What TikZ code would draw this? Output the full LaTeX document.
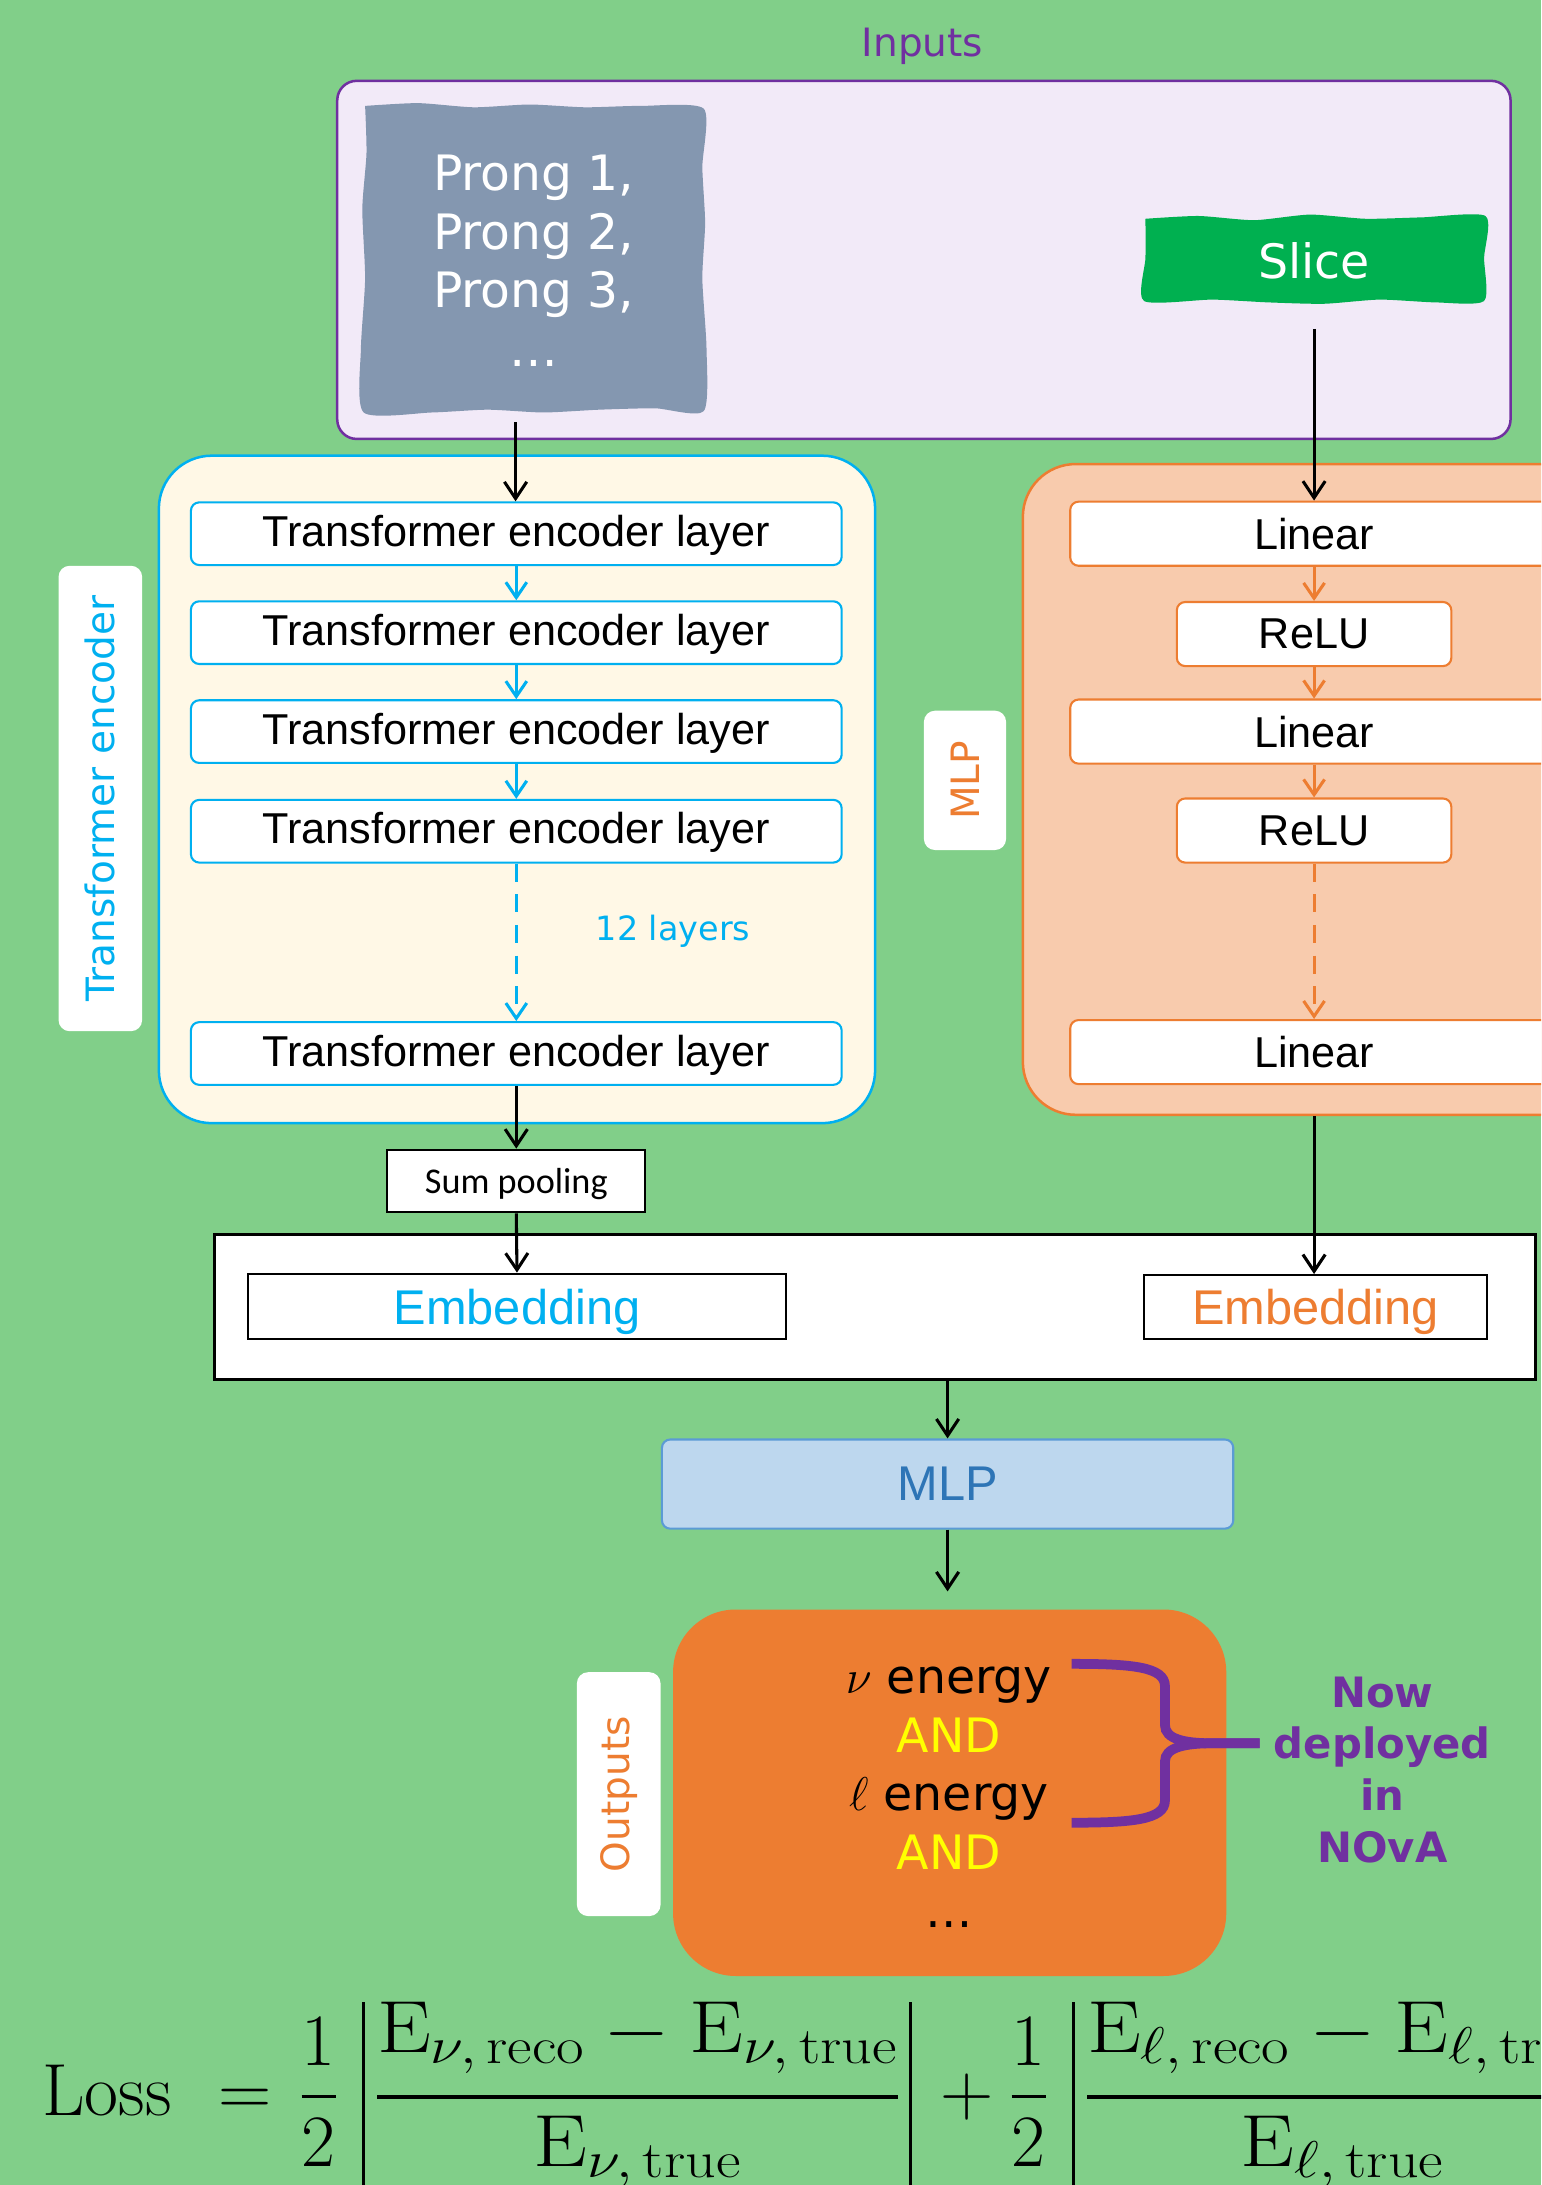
\RequirePackage{fix-cm}
\documentclass[tikz,border=0pt]{standalone}
\usepackage{graphicx}
\usepackage{fontspec}
\newfontfamily\dvfont{DejaVu Sans}
\newfontfamily\arfont{Liberation Sans}
\newfontfamily\calfont{Carlito}
\usetikzlibrary{arrows.meta}
\definecolor{bg}{HTML}{81CF89}
\definecolor{purp}{HTML}{7030A0}
\definecolor{inputsfill}{HTML}{F2EAF8}
\definecolor{prongc}{HTML}{8497B0}
\definecolor{slicec}{HTML}{00B050}
\definecolor{teblue}{HTML}{00B0F0}
\definecolor{cream}{HTML}{FFF8E6}
\definecolor{orangeC}{HTML}{ED7D31}
\definecolor{peach}{HTML}{F8CBAD}
\definecolor{mlpfill}{HTML}{BDD7EE}
\definecolor{mlpdraw}{HTML}{5B9BD5}
\definecolor{mlptext}{HTML}{2E75B6}
\definecolor{yel}{HTML}{FFFF00}
\newcommand\absbar{\vrule width 2.2pt height 81pt depth 70pt}
\newcommand\halffrac{{\displaystyle 1\above 2.2pt 2}}
\tikzset{
  tel/.style={draw=teblue, line width=1.5pt, fill=white, rounded corners=6pt,
    minimum width=467pt, minimum height=45pt, inner sep=0pt,
    text height=22pt, text depth=4pt,
    font=\arfont\fontsize{31}{36}\selectfont},
  mlpl/.style={draw=orangeC, line width=1.5pt, fill=white, rounded corners=6pt,
    minimum width=350pt, minimum height=46pt, inner sep=0pt,
    font=\arfont\fontsize{31}{36}\selectfont},
  relub/.style={mlpl, minimum width=197pt},
  sidelabel/.style={fill=white, rounded corners=8pt, rotate=90, inner sep=0pt,
    minimum height=60pt, font=\dvfont\fontsize{28}{32}\selectfont},
  blkarr/.style={line width=2.2pt, -{Straight Barb[length=12pt,width=16pt]}},
  blarr/.style={teblue, line width=2.2pt, -{Straight Barb[length=11pt,width=15pt]}},
  orarr/.style={orangeC, line width=2.2pt, -{Straight Barb[length=11pt,width=15pt]}},
  blkbox/.style={draw=black, fill=white, inner sep=0pt},
}
\begin{document}
\begin{tikzpicture}[x=1pt,y=-1pt]
\useasboundingbox (0,0) rectangle (1106,1568);
\clip (0,0) rectangle (1106,1568);
\fill[bg] (0,0) rectangle (1106,1568);

% ---------- Inputs ----------
\node[text=purp, font=\dvfont\fontsize{28}{32}\selectfont] (inputsLabel) at (662,33) {Inputs};
\node[draw=purp, fill=inputsfill, line width=1.8pt, rounded corners=14pt,
  minimum width=842pt, minimum height=257pt, inner sep=0pt] (inputs) at (663,186.5) {};

\fill[prongc] plot[smooth, tension=0.4] coordinates {
  (262,76) (300,74) (340,77) (380,75) (420,77) (460,76) (505,78)
  (504,120) (506,160) (504,200) (507,250) (505,295)
  (470,293) (430,294) (390,296) (350,294) (310,296) (261,296)
  (259,250) (262,200) (260,150) (263,110) (262,76)};
\node[text=white, align=center, inner sep=0pt,
  font=\dvfont\fontsize{35}{42}\selectfont] (prong) at (383,187)
  {Prong 1,\\Prong 2,\\Prong 3,\\\ldots};

\fill[slicec] plot[smooth, tension=0.4] coordinates {
  (822,157) (860,155) (900,158) (940,154) (980,157) (1020,156) (1066,155)
  (1065,185) (1065,216)
  (1030,217) (990,215) (950,218) (910,217) (870,215) (821,216)
  (822,185) (822,157)};
\node[text=white, font=\dvfont\fontsize{34}{40}\selectfont] (slice) at (943,187) {Slice};

\coordinate (prongout) at (370,303);
\coordinate (sliceout) at (943,236);

% ---------- Transformer encoder ----------
\node[draw=teblue, fill=cream, line width=1.8pt, rounded corners=38pt,
  minimum width=514pt, minimum height=479pt, inner sep=0pt] (tecont) at (371,566.5) {};
\node[sidelabel, text=teblue, minimum width=334pt] (telabel) at (72,573) {Transformer encoder};
\node[tel] (te1) at (370.5,383) {Transformer encoder layer};
\node[tel] (te2) at (370.5,454) {Transformer encoder layer};
\node[tel] (te3) at (370.5,525) {Transformer encoder layer};
\node[tel] (te4) at (370.5,596.5) {Transformer encoder layer};
\node[tel] (te5) at (370.5,756) {Transformer encoder layer};
\node[text=teblue, font=\dvfont\fontsize{24}{28}\selectfont] (twelve) at (483,668) {12 layers};

\draw[blarr] (te1) -- (te2);
\draw[blarr] (te2) -- (te3);
\draw[blarr] (te3) -- (te4);
\draw[blarr, dash pattern=on 13pt off 9pt] (te4) -- (te5);

% ---------- MLP (slice) ----------
\node[draw=orangeC, fill=peach, line width=1.8pt, rounded corners=38pt,
  minimum width=418pt, minimum height=467pt, inner sep=0pt] (mlpcont) at (943,566.5) {};
\node[sidelabel, text=orangeC, minimum width=100pt, minimum height=59pt] (mlplabel) at (692.5,560) {MLP};
\node[mlpl] (lin1) at (943,383) {Linear};
\node[relub] (relu1) at (943,455) {ReLU};
\node[mlpl] (lin2) at (943,525) {Linear};
\node[relub] (relu2) at (943,596) {ReLU};
\node[mlpl] (lin3) at (943,755) {Linear};

\draw[orarr] (lin1) -- (relu1);
\draw[orarr] (relu1) -- (lin2);
\draw[orarr] (lin2) -- (relu2);
\draw[orarr, dash pattern=on 13pt off 9pt] (relu2) -- (lin3);

\draw[blkarr] (prongout) -- (prongout |- te1.north);
\draw[blkarr] (sliceout) -- (lin1.north);

% ---------- pooling and embeddings ----------
\node[blkbox, line width=1.5pt, minimum width=185pt, minimum height=45pt, text depth=0pt,
  font=\calfont\fontsize{26}{30}\selectfont] (sumpool) at (370.5,847.5) {Sum pooling};
\node[blkbox, line width=2.5pt, minimum width=948pt, minimum height=104pt] (bigbox) at (628,938) {};
\node[blkbox, line width=1.5pt, minimum width=386pt, minimum height=47pt, text=teblue, text depth=0pt,
  font=\arfont\fontsize{35}{40}\selectfont] (embL) at (371,937.5) {Embedding};
\node[blkbox, line width=1.5pt, minimum width=246pt, minimum height=46pt, text=orangeC, text depth=0pt,
  font=\arfont\fontsize{35}{40}\selectfont] (embR) at (944,938) {Embedding};

\draw[blkarr] (te5.south) -- (sumpool.north);
\draw[blkarr] (sumpool.south) -- (embL.north);
\draw[blkarr] (mlpcont.south) -- (mlpcont.south |- embR.north);

\node[draw=mlpdraw, fill=mlpfill, line width=1.5pt, rounded corners=6pt,
  minimum width=410pt, minimum height=64pt, inner sep=0pt, text=mlptext,
  font=\arfont\fontsize{35}{40}\selectfont] (mlpbox) at (680,1065) {MLP};
\draw[blkarr] (mlpbox.north |- bigbox.south) -- (mlpbox.north);
\coordinate (outin) at (680,1142);
\draw[blkarr] (mlpbox.south) -- (outin);

% ---------- outputs ----------
\node[fill=orangeC, rounded corners=45pt, minimum width=397pt, minimum height=263pt,
  inner sep=0pt] (blob) at (681.5,1286.5) {};
\node[align=center, inner sep=0pt, font=\dvfont\fontsize{34}{42}\selectfont] (outtext) at (681,1290)
  {$\nu$ energy\\\textcolor{yel}{AND}\\$\ell$ energy\\\textcolor{yel}{AND}\\\ldots};
\node[sidelabel, text=orangeC, minimum width=175pt] (outlabel) at (444,1287.5) {Outputs};

\draw[purp, line width=7pt]
  (769,1194) .. controls (812,1194) and (836,1196) .. (836,1210) -- (836,1238)
  .. controls (836,1248) and (850,1251) .. (870,1251) -- (904,1251);
\draw[purp, line width=7pt]
  (904,1251) -- (870,1251) .. controls (850,1251) and (836,1254) .. (836,1264)
  -- (836,1292) .. controls (836,1306) and (812,1308) .. (769,1308);
\node[text=purp, align=center, inner sep=0pt,
  font=\dvfont\bfseries\fontsize{30}{37}\selectfont] (nova) at (992,1270)
  {Now\\deployed\\in\\NOvA};

% ---------- loss ----------
\node[anchor=base west, inner sep=0pt, font=\fontsize{53}{60}\selectfont] (loss) at (30,1518)
  {$\displaystyle \mathrm{Loss}\hspace{34pt}{=}\hspace{20pt}\halffrac\hspace{18pt}\absbar\hspace{7pt}%
   \scalebox{1.16}[1]{$\displaystyle{\raisebox{9pt}{$\mathrm{E}_{\nu,\,\mathrm{reco}}-\mathrm{E}_{\nu,\,\mathrm{true}}$}\above 2.4pt \mathrm{E}_{\nu,\,\mathrm{true}}}$}%
   \hspace{7pt}\absbar\hspace{20pt}{+}\hspace{12pt}\halffrac\hspace{18pt}\absbar\hspace{7pt}%
   \scalebox{1.16}[1]{$\displaystyle{\raisebox{9pt}{$\mathrm{E}_{\ell,\,\mathrm{reco}}-\mathrm{E}_{\ell,\,\mathrm{true}}$}\above 2.4pt \mathrm{E}_{\ell,\,\mathrm{true}}}$}%
   \hspace{7pt}\absbar$};
\end{tikzpicture}
\end{document}
